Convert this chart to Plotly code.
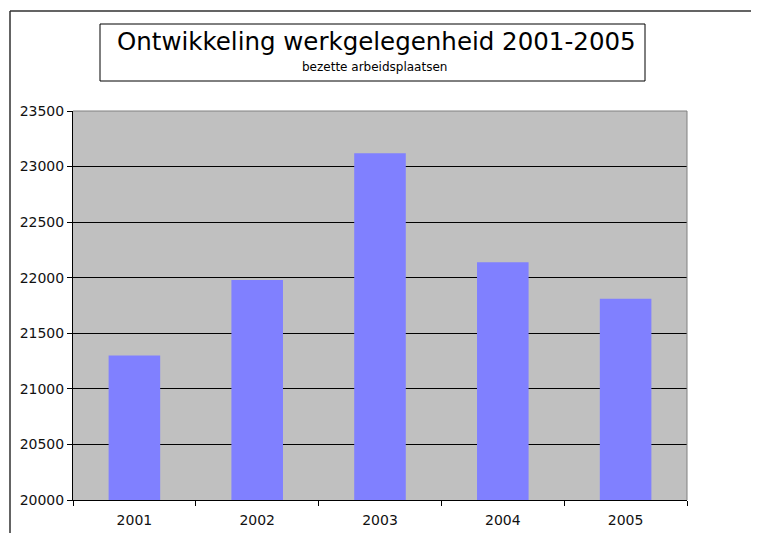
import plotly.graph_objects as go

years = ["2001", "2002", "2003", "2004", "2005"]
jobs = [21300, 21980, 23120, 22140, 21810]
y_ticks = [20000, 20500, 21000, 21500, 22000, 22500, 23000, 23500]

title_text = "Ontwikkeling werkgelegenheid 2001-2005"
subtitle_text = "bezette arbeidsplaatsen"

W, H = 759, 533
OFF = 8  # page body margin offset
# desired plot-area edges in page pixels
L, R, T, B = 73, 687, 111, 500

def px(x):
    return (x - L) / (R - L)

def py(y):
    return (B - y) / (B - T)

fig = go.Figure()
fig.add_trace(go.Bar(
    x=years, y=jobs,
    marker=dict(color="#8080FF", line=dict(width=0)),
    width=0.42,
))

font = "DejaVu Sans"
fig.update_layout(
    width=W, height=H,
    margin=dict(l=L - OFF, r=W - (R - OFF), t=T - OFF, b=H - (B - OFF)),
    paper_bgcolor="white",
    plot_bgcolor="#C0C0C0",
    showlegend=False,
    font=dict(family=font, color="black", size=14),
    xaxis=dict(
        type="category",
        showgrid=False,
        showline=True, linecolor="black", linewidth=1,
        ticks="outside", ticklen=5, tickcolor="black",
        tickson="boundaries",
        ticklabelstandoff=7,
        tickfont=dict(size=14, family=font, color="#111111"),
    ),
    yaxis=dict(
        range=[20000, 23500],
        tickvals=y_ticks,
        ticktext=[str(v) for v in y_ticks],
        showgrid=True, gridcolor="black", gridwidth=1,
        showline=True, linecolor="black", linewidth=1,
        ticks="outside", ticklen=5, tickcolor="black",
        tickfont=dict(size=14, family=font, color="#111111"),
        zeroline=False,
    ),
    shapes=[
        dict(type="line", xref="paper", yref="paper", x0=1, x1=1, y0=0, y1=1,
             line=dict(color="#808080", width=1), layer="above"),
        dict(type="line", xref="paper", yref="paper", x0=0, x1=1, y0=1, y1=1,
             line=dict(color="#808080", width=1), layer="above"),
        dict(type="line", xref="paper", yref="paper", x0=px(10), x1=px(800),
             y0=py(11), y1=py(11), line=dict(color="#303030", width=1.5)),
        dict(type="line", xref="paper", yref="paper", x0=px(10), x1=px(10),
             y0=py(11), y1=py(560), line=dict(color="#303030", width=1.5)),
        dict(type="rect", xref="paper", yref="paper", x0=px(100), x1=px(645),
             y0=py(81), y1=py(24), line=dict(color="black", width=1),
             fillcolor="white"),
    ],
    annotations=[
        dict(text=title_text, xref="paper", yref="paper", x=px(376), y=py(42),
             xanchor="center", yanchor="middle", showarrow=False,
             font=dict(size=24.5, family=font)),
        dict(text=subtitle_text, xref="paper", yref="paper", x=px(374), y=py(67),
             xanchor="center", yanchor="middle", showarrow=False,
             font=dict(size=12, family=font)),
    ],
)

fig.write_html("out.html")
